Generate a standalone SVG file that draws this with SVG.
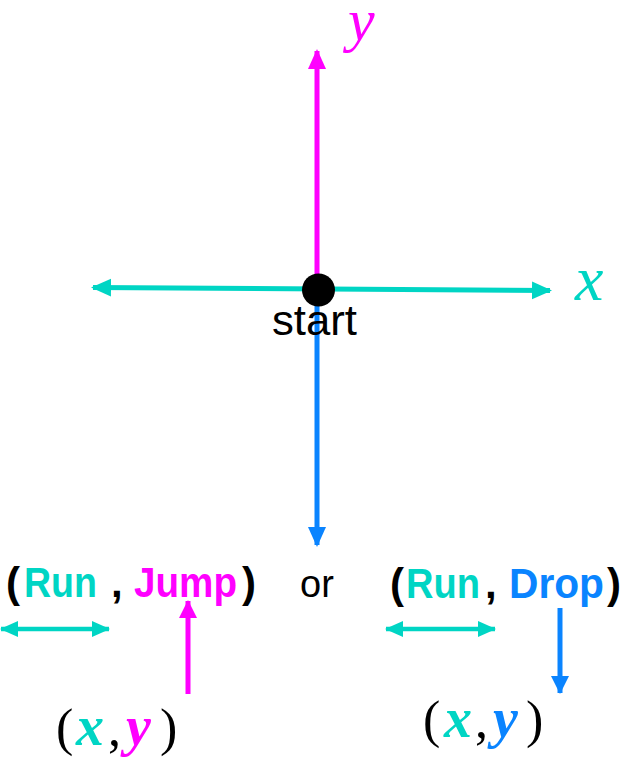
<svg xmlns="http://www.w3.org/2000/svg" width="628" height="764" viewBox="0 0 628 764">
<style>
.cy{fill:#00D5C4}.mg{fill:#FF00FF}.bl{fill:#0A84FF}.bk{fill:#000}
.lab{font-family:"Liberation Sans","Open Sans",sans-serif;font-weight:bold;font-size:42px}
.math{font-family:"Liberation Serif","DejaVu Serif",serif;font-size:52px}
.mi{font-style:italic;font-weight:bold;font-size:56px}
</style>
<defs>
<marker id="hc" markerUnits="userSpaceOnUse" markerWidth="20" markerHeight="20" viewBox="0 0 20 20" refX="18" refY="10" orient="auto-start-reverse"><path d="M0,1 L20,10 L0,19 Z" fill="#00D5C4"/></marker>
<marker id="hm" markerUnits="userSpaceOnUse" markerWidth="20" markerHeight="20" viewBox="0 0 20 20" refX="18" refY="10" orient="auto"><path d="M0,1 L20,10 L0,19 Z" fill="#FF00FF"/></marker>
<marker id="hb" markerUnits="userSpaceOnUse" markerWidth="20" markerHeight="20" viewBox="0 0 20 20" refX="18" refY="10" orient="auto"><path d="M0,1 L20,10 L0,19 Z" fill="#0A84FF"/></marker>
<marker id="hcs" markerUnits="userSpaceOnUse" markerWidth="18" markerHeight="16" viewBox="0 0 18 16" refX="17" refY="8" orient="auto-start-reverse"><path d="M0,0 L18,8 L0,16 Z" fill="#00D5C4"/></marker>
<marker id="hms" markerUnits="userSpaceOnUse" markerWidth="18" markerHeight="18" viewBox="0 0 18 18" refX="17" refY="9" orient="auto"><path d="M0,0 L18,9 L0,18 Z" fill="#FF00FF"/></marker>
<marker id="hbs" markerUnits="userSpaceOnUse" markerWidth="18" markerHeight="18" viewBox="0 0 18 18" refX="17" refY="9" orient="auto"><path d="M0,0 L18,9 L0,18 Z" fill="#0A84FF"/></marker>
</defs>
<g id="connectors">
<line x1="317" y1="290" x2="317" y2="51" stroke="#FF00FF" stroke-width="5" marker-end="url(#hm)"/>
<line x1="317" y1="290" x2="317" y2="545" stroke="#0A84FF" stroke-width="5" marker-end="url(#hb)"/>
<line x1="93" y1="287.5" x2="550" y2="290.5" stroke="#00D5C4" stroke-width="5" marker-start="url(#hc)" marker-end="url(#hc)"/>
<line x1="1" y1="629" x2="109" y2="629" stroke="#00D5C4" stroke-width="4.5" marker-start="url(#hcs)" marker-end="url(#hcs)"/>
<line x1="386" y1="629" x2="495" y2="629" stroke="#00D5C4" stroke-width="4.5" marker-start="url(#hcs)" marker-end="url(#hcs)"/>
<line x1="188" y1="694" x2="188" y2="601" stroke="#FF00FF" stroke-width="5" marker-end="url(#hms)"/>
<line x1="560" y1="608" x2="560" y2="693" stroke="#0A84FF" stroke-width="5" marker-end="url(#hbs)"/>
</g>
<g id="start">
<circle cx="318.5" cy="290" r="16.5" fill="#000"/>
<text x="272" y="335" font-family="'Liberation Sans','Open Sans',sans-serif" font-size="42" textLength="85" lengthAdjust="spacingAndGlyphs">start</text>
</g>
<g id="axis-labels">
<text x="575" y="300" font-family="'Liberation Serif','DejaVu Serif',serif" font-style="italic" font-size="64" fill="#00D5C4">x</text>
<text x="348" y="40" font-family="'Liberation Serif','DejaVu Serif',serif" font-style="italic" font-size="60" fill="#FF00FF">y</text>
</g>
<g id="pair-left">
<text class="lab" y="597"><tspan class="bk" x="6">(</tspan><tspan class="cy" x="24" textLength="73" lengthAdjust="spacingAndGlyphs">Run</tspan><tspan class="bk" x="111">,</tspan><tspan class="mg" x="134" textLength="103" lengthAdjust="spacingAndGlyphs">Jump</tspan><tspan class="bk" x="242">)</tspan></text>
</g>
<g id="or">
<text x="300" y="597" font-family="'Liberation Sans','Open Sans',sans-serif" font-size="38">or</text>
</g>
<g id="pair-right">
<text class="lab" y="598"><tspan class="bk" x="390">(</tspan><tspan class="cy" x="406" textLength="74" lengthAdjust="spacingAndGlyphs">Run</tspan><tspan class="bk" x="485">,</tspan><tspan class="bl" x="509" textLength="95" lengthAdjust="spacingAndGlyphs">Drop</tspan><tspan class="bk" x="607">)</tspan></text>
</g>
<g id="coord-left">
<text class="math" y="745"><tspan class="bk" x="56">(</tspan><tspan class="cy mi" x="76">x</tspan><tspan class="bk" x="108">,</tspan><tspan class="mg mi" x="126">y</tspan><tspan class="bk" x="160">)</tspan></text>
</g>
<g id="coord-right">
<text class="math" y="737"><tspan class="bk" x="423">(</tspan><tspan class="cy mi" x="444">x</tspan><tspan class="bk" x="475">,</tspan><tspan class="bl mi" x="493">y</tspan><tspan class="bk" x="526">)</tspan></text>
</g>
</svg>
